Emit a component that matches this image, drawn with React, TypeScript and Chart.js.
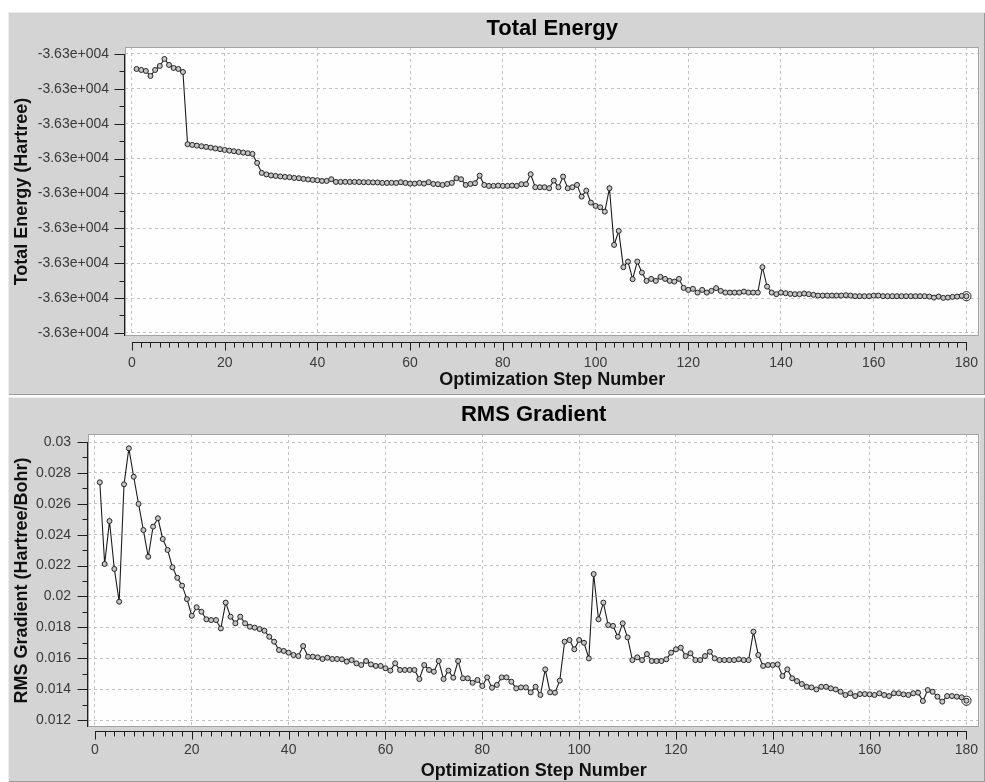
import React, { useEffect, useRef } from 'react';
import { Chart, registerables } from 'chart.js';

Chart.register(...registerables);

// ---------- data ----------
const STEPS: number[] = Array.from({ length: 180 }, (_, i) => i + 1);

const ENERGY: number[] = [
  -36300.00430, -36300.00459, -36300.00487, -36300.00631, -36300.00459, -36300.00344, -36300.00143, -36300.00315, -36300.00401, -36300.00430,
  -36300.00516, -36300.02589, -36300.02609, -36300.02629, -36300.02647, -36300.02667, -36300.02687, -36300.02710, -36300.02730, -36300.02753,
  -36300.02773, -36300.02790, -36300.02810, -36300.02830, -36300.02847, -36300.02867, -36300.03125, -36300.03412, -36300.03455, -36300.03484,
  -36300.03498, -36300.03513, -36300.03527, -36300.03535, -36300.03556, -36300.03564, -36300.03584, -36300.03599, -36300.03613, -36300.03622,
  -36300.03642, -36300.03642, -36300.03593, -36300.03670, -36300.03670, -36300.03668, -36300.03672, -36300.03670, -36300.03674, -36300.03679,
  -36300.03679, -36300.03685, -36300.03685, -36300.03699, -36300.03699, -36300.03697, -36300.03699, -36300.03679, -36300.03699, -36300.03719,
  -36300.03719, -36300.03699, -36300.03719, -36300.03679, -36300.03728, -36300.03736, -36300.03756, -36300.03728, -36300.03699, -36300.03564,
  -36300.03593, -36300.03756, -36300.03728, -36300.03708, -36300.03490, -36300.03756, -36300.03785, -36300.03785, -36300.03776, -36300.03785,
  -36300.03785, -36300.03776, -36300.03785, -36300.03736, -36300.03736, -36300.03449, -36300.03822, -36300.03822, -36300.03822, -36300.03851,
  -36300.03633, -36300.03822, -36300.03518, -36300.03851, -36300.03822, -36300.03756, -36300.04092, -36300.03920, -36300.04264, -36300.04358,
  -36300.04396, -36300.04522, -36300.03851, -36300.05477, -36300.05075, -36300.06116, -36300.05956, -36300.06460, -36300.05956, -36300.06271,
  -36300.06509, -36300.06452, -36300.06509, -36300.06394, -36300.06452, -36300.06509, -36300.06529, -36300.06452, -36300.06710, -36300.06767,
  -36300.06738, -36300.06844, -36300.06767, -36300.06844, -36300.06796, -36300.06718, -36300.06796, -36300.06844, -36300.06844, -36300.06844,
  -36300.06844, -36300.06816, -36300.06844, -36300.06844, -36300.06844, -36300.06116, -36300.06672, -36300.06844, -36300.06890, -36300.06844,
  -36300.06862, -36300.06882, -36300.06890, -36300.06890, -36300.06873, -36300.06890, -36300.06910, -36300.06930, -36300.06930, -36300.06930,
  -36300.06930, -36300.06930, -36300.06930, -36300.06919, -36300.06930, -36300.06948, -36300.06948, -36300.06948, -36300.06948, -36300.06930,
  -36300.06930, -36300.06948, -36300.06948, -36300.06948, -36300.06948, -36300.06948, -36300.06948, -36300.06948, -36300.06948, -36300.06948,
  -36300.06948, -36300.06959, -36300.06988, -36300.06959, -36300.06996, -36300.06988, -36300.06968, -36300.06959, -36300.06939, -36300.06948,
];

const RMS_GRADIENT: number[] = [
  0.02739, 0.02210, 0.02488, 0.02178, 0.01966, 0.02726, 0.02959, 0.02775, 0.02599, 0.02430,
  0.02257, 0.02452, 0.02506, 0.02372, 0.02301, 0.02189, 0.02121, 0.02070, 0.01983, 0.01875,
  0.01930, 0.01901, 0.01852, 0.01847, 0.01847, 0.01793, 0.01960, 0.01869, 0.01826, 0.01869,
  0.01826, 0.01804, 0.01798, 0.01789, 0.01778, 0.01739, 0.01707, 0.01653, 0.01647, 0.01636,
  0.01621, 0.01614, 0.01679, 0.01610, 0.01610, 0.01606, 0.01595, 0.01603, 0.01595, 0.01595,
  0.01593, 0.01578, 0.01588, 0.01567, 0.01556, 0.01582, 0.01560, 0.01550, 0.01550, 0.01535,
  0.01520, 0.01567, 0.01524, 0.01524, 0.01524, 0.01524, 0.01465, 0.01556, 0.01524, 0.01513,
  0.01582, 0.01465, 0.01520, 0.01474, 0.01582, 0.01470, 0.01470, 0.01441, 0.01459, 0.01420,
  0.01476, 0.01409, 0.01427, 0.01476, 0.01476, 0.01448, 0.01405, 0.01411, 0.01411, 0.01379,
  0.01415, 0.01362, 0.01528, 0.01379, 0.01377, 0.01455, 0.01707, 0.01718, 0.01658, 0.01718,
  0.01700, 0.01599, 0.02145, 0.01852, 0.01960, 0.01815, 0.01809, 0.01739, 0.01826, 0.01735,
  0.01588, 0.01606, 0.01588, 0.01627, 0.01582, 0.01582, 0.01582, 0.01593, 0.01636, 0.01658,
  0.01668, 0.01614, 0.01632, 0.01588, 0.01588, 0.01614, 0.01642, 0.01599, 0.01588, 0.01588,
  0.01588, 0.01588, 0.01593, 0.01588, 0.01588, 0.01772, 0.01621, 0.01550, 0.01556, 0.01556,
  0.01560, 0.01485, 0.01528, 0.01470, 0.01452, 0.01433, 0.01415, 0.01411, 0.01398, 0.01415,
  0.01415, 0.01405, 0.01398, 0.01383, 0.01362, 0.01373, 0.01355, 0.01368, 0.01368, 0.01366,
  0.01362, 0.01373, 0.01362, 0.01355, 0.01373, 0.01373, 0.01366, 0.01362, 0.01373, 0.01377,
  0.01323, 0.01394, 0.01383, 0.01351, 0.01319, 0.01355, 0.01355, 0.01351, 0.01347, 0.01325,
];

const STEP_TICKS: number[] = [0, 20, 40, 60, 80, 100, 120, 140, 160, 180];
const STEP_MINOR_TICKS: number[] = Array.from({ length: 91 }, (_, i) => i * 2);

const ENERGY_TICKS: number[] = [
  -36300.00, -36300.01, -36300.02, -36300.03, -36300.04, -36300.05, -36300.06, -36300.07, -36300.08,
];
const ENERGY_MINOR_TICKS: number[] = [
  -36300.005, -36300.015, -36300.025, -36300.035, -36300.045, -36300.055, -36300.065, -36300.075,
];

const RMS_TICKS: number[] = [0.012, 0.014, 0.016, 0.018, 0.02, 0.022, 0.024, 0.026, 0.028, 0.03];
const RMS_MINOR_TICKS: number[] = [0.013, 0.015, 0.017, 0.019, 0.021, 0.023, 0.025, 0.027, 0.029];

// ---------- helpers ----------
const FONT = "'Liberation Sans', Arial, Helvetica, sans-serif";

const sci = (v: number): string => {
  const [m, e] = v.toExponential(2).split('e');
  return `${m}e${e[0]}${e.slice(1).padStart(3, '0')}`;
};

interface PanelCfg {
  title: string;
  yTitle: string;
  values: number[];
  yMin: number;
  yMax: number;
  yTicks: number[];
  yMinor: number[];
  yFmt: (v: number) => string;
  xMin: number;
  xMax: number;
  yWidth: number;
  xHeight: number;
  titlePad: { top: number; bottom: number };
  xTickPad: number;
  xTitlePad: number;
  yTickPad: number;
  axisGap: number;
}

const decorPlugin = (o: PanelCfg) => ({
  id: 'decor',
  beforeDraw(chart: any) {
    const { ctx, chartArea: a } = chart;
    ctx.save();
    ctx.fillStyle = '#fefefe';
    ctx.fillRect(a.left, a.top, a.right - a.left, a.bottom - a.top);
    ctx.restore();
  },
  afterDraw(chart: any) {
    const { ctx, chartArea: a, scales } = chart;
    const xs = scales.x;
    const ys = scales.y;
    const line = (x1: number, y1: number, x2: number, y2: number) => {
      ctx.beginPath();
      ctx.moveTo(x1, y1);
      ctx.lineTo(x2, y2);
      ctx.stroke();
    };
    ctx.save();
    ctx.lineWidth = 1;
    // plot frame
    ctx.strokeStyle = '#a4a4a4';
    const L = Math.round(a.left), T = Math.round(a.top), R = Math.round(a.right), B = Math.round(a.bottom);
    ctx.strokeRect(L + 0.5, T + 0.5, R - L - 1, B - T - 1);
    // y axis
    ctx.strokeStyle = '#1e1e1e';
    const lx = L - 0.5;
    const yTop = Math.round(ys.getPixelForValue(Math.max(...o.yTicks)));
    line(lx, yTop, lx, B);
    o.yTicks.forEach((v) => {
      const p = Math.round(ys.getPixelForValue(v)) + 0.5;
      line(lx - 10, p, lx, p);
    });
    o.yMinor.forEach((v) => {
      const p = Math.round(ys.getPixelForValue(v)) + 0.5;
      line(lx - 5, p, lx, p);
    });
    // detached x axis
    const ay = B + o.axisGap + 0.5;
    const x0 = Math.round(xs.getPixelForValue(STEP_TICKS[0]));
    const x1 = Math.round(xs.getPixelForValue(STEP_TICKS[STEP_TICKS.length - 1]));
    line(x0, ay, x1 + 1, ay);
    STEP_MINOR_TICKS.forEach((v) => {
      const p = Math.round(xs.getPixelForValue(v)) + 0.5;
      line(p, ay, p, ay + 5);
    });
    STEP_TICKS.forEach((v) => {
      const p = Math.round(xs.getPixelForValue(v)) + 0.5;
      line(p, ay, p, ay + 8);
    });
    ctx.restore();
  },
});

function Panel({ cfg, top, height }: { cfg: PanelCfg; top: number; height: number }) {
  const ref = useRef<HTMLCanvasElement | null>(null);
  useEffect(() => {
    if (!ref.current) return;
    const o = cfg;
    const points = STEPS.map((s, i) => ({ x: s, y: o.values[i] }));
    const last = points[points.length - 1];
    const chart = new Chart(ref.current, {
      type: 'line',
      data: {
        datasets: [
          {
            data: points,
            borderColor: '#1c1c1c',
            borderWidth: 1.1,
            pointRadius: 2.5,
            pointBorderWidth: 1,
            pointBorderColor: '#262626',
            pointBackgroundColor: '#c4c4c4',
            tension: 0,
            fill: false,
          },
          {
            data: [last],
            showLine: false,
            pointRadius: 4.6,
            pointBorderWidth: 1,
            pointBorderColor: '#262626',
            pointBackgroundColor: 'rgba(0,0,0,0)',
          },
        ],
      },
      options: {
        animation: false,
        responsive: true,
        maintainAspectRatio: false,
        layout: { padding: { left: 0, right: 2, top: 0, bottom: 0 } },
        plugins: {
          legend: { display: false },
          tooltip: { enabled: false },
          title: {
            display: true,
            text: o.title,
            fullSize: false,
            color: '#000',
            font: { family: FONT, size: 22, weight: 'bold' },
            padding: o.titlePad,
          },
        },
        scales: {
          x: {
            type: 'linear',
            min: o.xMin,
            max: o.xMax,
            afterBuildTicks: (s: any) => {
              s.ticks = STEP_TICKS.map((v) => ({ value: v }));
            },
            afterFit: (s: any) => {
              s.height = o.xHeight;
              s.paddingLeft = 0;
              s.paddingRight = 0;
            },
            grid: { color: '#c2c2c2', lineWidth: 1, drawTicks: false },
            border: { display: false, dash: [3, 3] },
            ticks: {
              padding: o.xTickPad,
              color: '#3a3a3a',
              font: { family: FONT, size: 14 },
              maxRotation: 0,
              autoSkip: false,
              callback: (v: any) => String(v),
            },
            title: {
              display: true,
              text: 'Optimization Step Number',
              color: '#111',
              font: { family: FONT, size: 18, weight: 'bold' },
              padding: { top: 0, bottom: o.xTitlePad },
            },
          },
          y: {
            type: 'linear',
            min: o.yMin,
            max: o.yMax,
            afterBuildTicks: (s: any) => {
              s.ticks = o.yTicks.map((v) => ({ value: v }));
            },
            afterFit: (s: any) => {
              s.width = o.yWidth;
              s.paddingTop = 0;
              s.paddingBottom = 0;
            },
            grid: { color: '#c2c2c2', lineWidth: 1, drawTicks: false },
            border: { display: false, dash: [3, 3] },
            ticks: {
              padding: o.yTickPad,
              color: '#3a3a3a',
              font: { family: FONT, size: 14 },
              autoSkip: false,
              callback: (v: any) => o.yFmt(Number(v)),
            },
            title: {
              display: true,
              text: o.yTitle,
              color: '#111',
              font: { family: FONT, size: 18, weight: 'bold' },
              padding: { top: 3, bottom: 0 },
            },
          },
        },
      },
      plugins: [decorPlugin(o)],
    } as any);
    return () => chart.destroy();
  }, [cfg]);

  return (
    <div
      style={{
        position: 'absolute',
        left: 8,
        top,
        width: 977,
        height,
        background: '#d4d4d4',
        boxShadow: 'inset 1px 1px 0 #ededed, inset -1px -1px 0 #9a9a9a',
      }}
    >
      <canvas ref={ref} style={{ display: 'block' }} />
    </div>
  );
}

const ENERGY_CFG: PanelCfg = {
  title: 'Total Energy',
  yTitle: 'Total Energy (Hartree)',
  values: ENERGY,
  yMin: -36300.0809,
  yMax: -36299.998,
  yTicks: ENERGY_TICKS,
  yMinor: ENERGY_MINOR_TICKS,
  yFmt: sci,
  xMin: -1.5,
  xMax: 182.8,
  yWidth: 117,
  xHeight: 59,
  titlePad: { top: 4, bottom: 4.6 },
  xTickPad: 19,
  xTitlePad: 4,
  yTickPad: 16,
  axisGap: 6,
};

const RMS_CFG: PanelCfg = {
  title: 'RMS Gradient',
  yTitle: 'RMS Gradient (Hartree/Bohr)',
  values: RMS_GRADIENT,
  yMin: 0.011547,
  yMax: 0.030518,
  yTicks: RMS_TICKS,
  yMinor: RMS_MINOR_TICKS,
  yFmt: (v: number) => String(v),
  xMin: -1.44,
  xMax: 182.67,
  yWidth: 80,
  xHeight: 55,
  titlePad: { top: 5, bottom: 5.6 },
  xTickPad: 15,
  xTitlePad: 0,
  yTickPad: 17,
  axisGap: 4,
};

export default function App() {
  return (
    <div
      style={{
        position: 'fixed',
        left: 0,
        top: 0,
        width: 985,
        height: 782,
        background: '#ffffff',
        overflow: 'hidden',
      }}
    >
      <Panel cfg={ENERGY_CFG} top={12} height={383} />
      <Panel cfg={RMS_CFG} top={397} height={385} />
    </div>
  );
}
